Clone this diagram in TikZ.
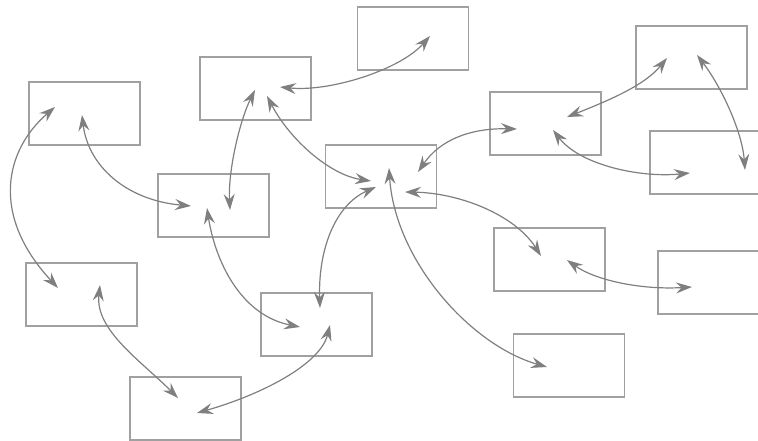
\documentclass[tikz,border=0pt]{standalone}
\usetikzlibrary{arrows.meta}
\definecolor{boxgray}{HTML}{A0A0A0}
\definecolor{linkgray}{HTML}{7F7F7F}
\tikzset{
  box/.style={draw=boxgray, line width=1.3pt, minimum width=111pt, minimum height=63pt, inner sep=0pt},
  tip/.style={Stealth[length=16pt,width=11pt,inset=5.5pt]},
  link/.style={draw=linkgray, line width=1.2pt, {Stealth[length=16pt,width=11pt,inset=5.5pt]}-{Stealth[length=16pt,width=11pt,inset=5.5pt]}}
}
\begin{document}
\begin{tikzpicture}[x=1pt,y=-1pt]
\useasboundingbox (0,0) rectangle (758,441);
\clip (0,0) rectangle (758,441);

% boxes
\node[box] (A) at (84.5,113.5) {};
\node[box] (B) at (255.5,88.5) {};
\node[box] (C) at (413,38.5) {};
\node[box] (D) at (381,176.5) {};
\node[box] (E) at (213.5,205.5) {};
\node[box] (F) at (545.5,123.5) {};
\node[box] (G) at (691.5,57.5) {};
\node[box] (H) at (705.5,162.5) {};
\node[box] (I) at (81.5,294.5) {};
\node[box] (J) at (316.5,324.5) {};
\node[box] (K) at (185.5,408.5) {};
\node[box] (L) at (549.5,259.5) {};
\node[box] (M) at (713.5,282.5) {};
\node[box] (N) at (569,365.5) {};

% connector end points inside the boxes
\coordinate (a1) at (55,107);
\coordinate (a2) at (82,115);
\coordinate (b1) at (255,90);
\coordinate (b2) at (280,87);
\coordinate (b3) at (267,96);
\coordinate (c1) at (430,36);
\coordinate (d1) at (371,181);
\coordinate (d2) at (376,187);
\coordinate (d3) at (389,168);
\coordinate (d4) at (405,192);
\coordinate (d5) at (418,172);
\coordinate (e1) at (191,206);
\coordinate (e2) at (230,210);
\coordinate (e3) at (207,208);
\coordinate (f1) at (517,129);
\coordinate (f2) at (567,117);
\coordinate (f3) at (553,130);
\coordinate (g1) at (667,58);
\coordinate (g2) at (697,55);
\coordinate (h1) at (690,173);
\coordinate (h2) at (745,170);
\coordinate (i1) at (58,288);
\coordinate (i2) at (100,285);
\coordinate (j1) at (300,327);
\coordinate (j2) at (320,308);
\coordinate (j3) at (330,325);
\coordinate (k1) at (178,398);
\coordinate (k2) at (197,413);
\coordinate (l1) at (541,256);
\coordinate (l2) at (567,260);
\coordinate (m1) at (692,287);
\coordinate (n1) at (547,367);

% connectors
\draw[link] (a1) .. controls (5,150) and (-10,215) .. (i1);
\draw[link] (a2) .. controls (88,165) and (125,200) .. (e1);
\draw[link] (b1) .. controls (240,120) and (228,170) .. (e2);
\draw[link] (e3) .. controls (215,260) and (240,315) .. (j1);
\draw[link] (b2) .. controls (330,92) and (400,70) .. (c1);
\draw[link] (b3) .. controls (290,140) and (330,175) .. (d1);
\draw[link] (d2) .. controls (335,205) and (318,250) .. (j2);
\draw[link] (d3) .. controls (395,260) and (470,345) .. (n1);
\draw[link] (d4) .. controls (460,193) and (515,215) .. (l1);
\draw[link] (d5) .. controls (440,140) and (470,128) .. (f1);
\draw[link] (f2) .. controls (610,100) and (645,85) .. (g1);
\draw[link] (f3) .. controls (580,165) and (640,178) .. (h1);
\draw[link] (g2) .. controls (720,85) and (742,130) .. (h2);
\draw[link] (l2) .. controls (595,280) and (640,290) .. (m1);
\draw[link] (i2) .. controls (95,330) and (140,360) .. (k1);
\draw[link] (k2) .. controls (260,395) and (320,365) .. (j3);
\end{tikzpicture}
\end{document}
